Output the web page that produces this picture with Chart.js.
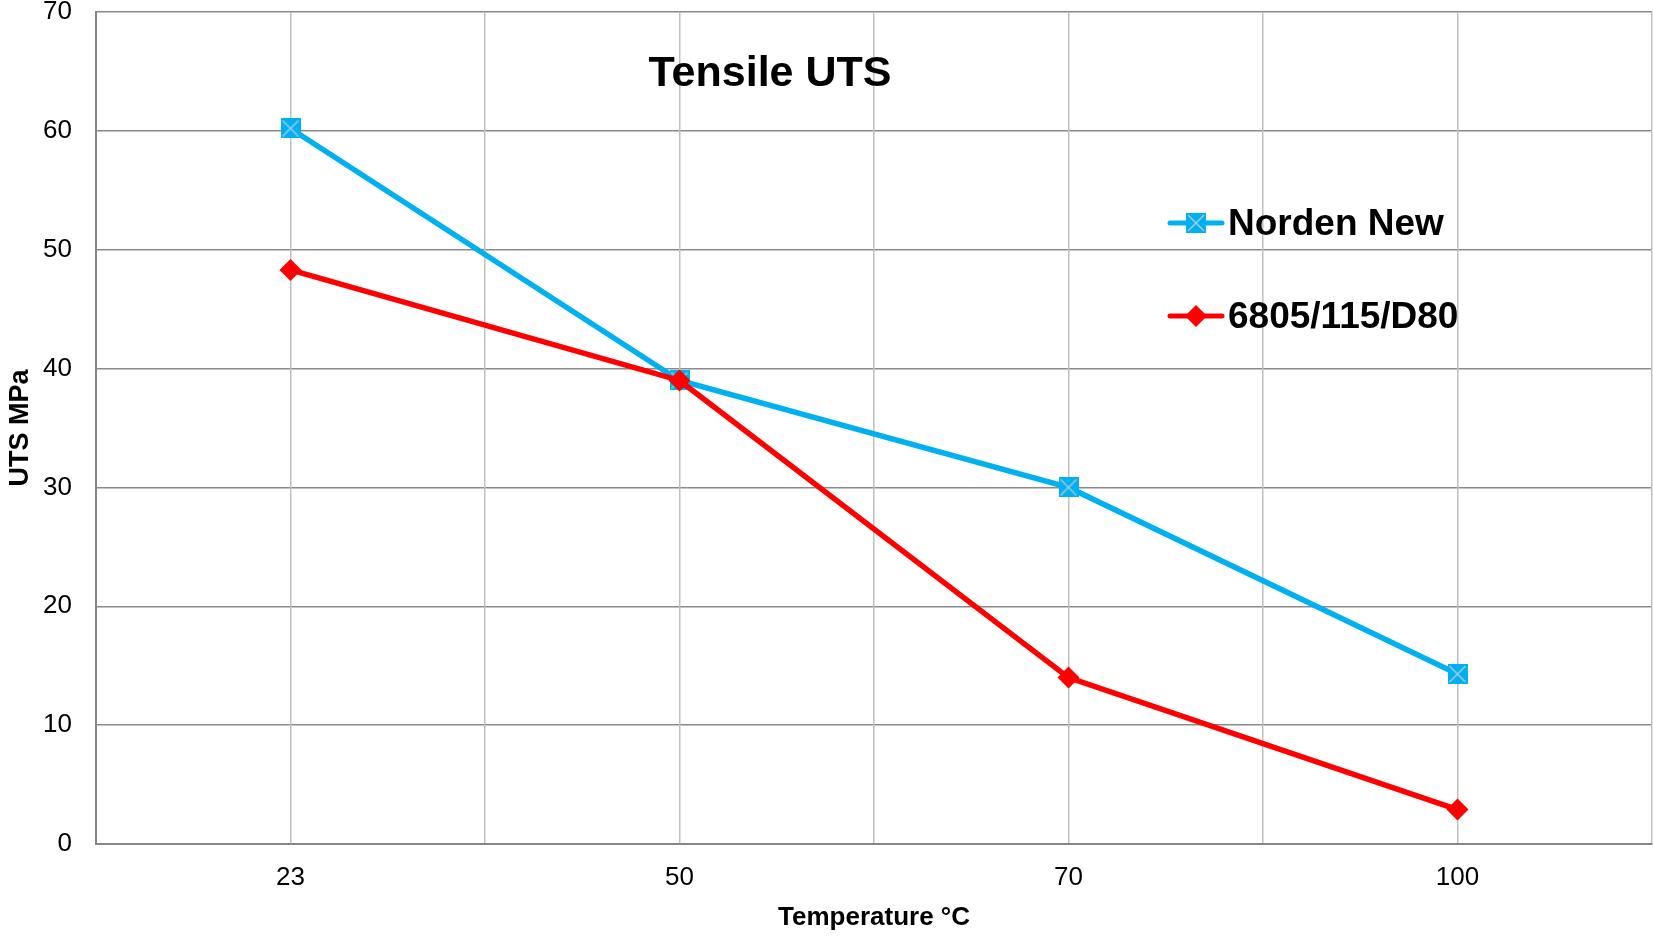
<!DOCTYPE html>
<html>
<head>
<meta charset="utf-8">
<title>Tensile UTS</title>
<script src="https://cdn.jsdelivr.net/npm/chart.js@4/dist/chart.umd.min.js"></script>
<style>
  html, body { margin: 0; padding: 0; background: #fff; overflow: hidden; }
  #wrap { width: 1653px; height: 937px; position: relative; }
  canvas { display: block; }
</style>
</head>
<body>
<div id="wrap"><canvas id="utsChart"></canvas></div>
<script>
// data
const temperatures = ['23', '50', '70', '100'];
const nordenNew = [60.2, 39.0, 30.0, 14.3];
const d80 = [48.3, 39.0, 14.0, 2.9];
const yTicks = [0, 10, 20, 30, 40, 50, 60, 70];

const FONT = '"Liberation Sans", Arial, sans-serif';
const BLUE = '#00b0f0';
const RED = '#ff0000';

// blue square marker with a light cross
function squareMarker(size) {
    const c = document.createElement('canvas');
    c.width = size; c.height = size;
    const g = c.getContext('2d');
    g.fillStyle = BLUE;
    g.fillRect(0, 0, size, size);
    g.strokeStyle = '#a9c9de';
    g.lineWidth = 1.5;
    g.beginPath();
    g.moveTo(2, 2); g.lineTo(size - 2, size - 2);
    g.moveTo(size - 2, 2); g.lineTo(2, size - 2);
    g.stroke();
    return c;
}
const blueMarker = squareMarker(20);

// no automatic padding for the labels: plot box fixed by the layout padding
function noPad(s) {
    s.paddingTop = 0; s.paddingBottom = 0;
    s.paddingLeft = 0; s.paddingRight = 0;
}

// title and legend sit inside the plot area
const insideText = {
    id: 'insideText',
    afterDatasetsDraw(chart) {
        const ctx = chart.ctx;
        ctx.save();
        ctx.fillStyle = '#000';
        ctx.font = 'bold 43px ' + FONT;
        ctx.textAlign = 'center';
        ctx.textBaseline = 'middle';
        ctx.fillText('Tensile UTS', 770, 74);

        const rows = [
            { label: 'Norden New', color: BLUE, y: 223, style: blueMarker, r: 10 },
            { label: '6805/115/D80', color: RED, y: 316, style: 'rectRot', r: 11 }
        ];
        ctx.font = 'bold 37px ' + FONT;
        ctx.textAlign = 'left';
        rows.forEach(row => {
            ctx.strokeStyle = row.color;
            ctx.lineWidth = 5;
            ctx.lineCap = 'round';
            ctx.beginPath();
            ctx.moveTo(1170, row.y);
            ctx.lineTo(1222, row.y);
            ctx.stroke();
            ctx.fillStyle = row.color;
            Chart.helpers.drawPoint(ctx, { pointStyle: row.style, radius: row.r, rotation: 0, borderWidth: 0 }, 1196, row.y);
            ctx.fillStyle = '#000';
            ctx.fillText(row.label, 1228, row.y + 2);
        });
        ctx.restore();
    }
};

new Chart(document.getElementById('utsChart').getContext('2d'), {
    type: 'line',
    data: {
        labels: temperatures,
        datasets: [
            {
                label: 'Norden New',
                data: nordenNew,
                borderColor: BLUE,
                backgroundColor: BLUE,
                borderWidth: 5.5,
                pointStyle: blueMarker,
                pointRadius: 10,
                order: 2
            },
            {
                label: '6805/115/D80',
                data: d80,
                borderColor: RED,
                backgroundColor: RED,
                borderWidth: 5.5,
                pointStyle: 'rectRot',
                pointRadius: 11,
                pointBorderWidth: 0,
                order: 1
            }
        ]
    },
    options: {
        responsive: true,
        maintainAspectRatio: false,
        animation: false,
        layout: { autoPadding: false, padding: { top: 12, right: 1, left: 0, bottom: 0 } },
        plugins: {
            legend: { display: false },
            title: { display: false },
            tooltip: { enabled: false }
        },
        scales: {
            y: {
                min: 0,
                max: 70,
                afterBuildTicks: s => { s.ticks = yTicks.map(v => ({ value: v })); },
                afterFit: s => { s.width = 96; noPad(s); },
                ticks: {
                    color: '#000',
                    padding: 24,
                    font: { family: FONT, size: 26 }
                },
                grid: { color: '#8a8a8a', lineWidth: 1.5, drawTicks: false },
                border: { color: '#868686', width: 2 },
                title: {
                    display: true,
                    text: 'UTS MPa',
                    color: '#000',
                    padding: { top: 4, bottom: 0 },
                    font: { family: FONT, size: 27, weight: 'bold' }
                }
            },
            x: {
                offset: true,
                afterFit: s => { s.height = 93; noPad(s); },
                grid: { offset: false, color: '#c0c0c0', lineWidth: 1.5, drawTicks: false },
                border: { color: '#868686', width: 2 },
                ticks: {
                    color: '#000',
                    padding: 18,
                    font: { family: FONT, size: 26 }
                },
                title: {
                    display: true,
                    text: 'Temperature °C',
                    color: '#000',
                    padding: { top: 10 },
                    font: { family: FONT, size: 26, weight: 'bold' }
                }
            },
            x2: {
                type: 'category',
                position: 'bottom',
                offset: true,
                afterFit: s => { s.height = 0; noPad(s); },
                grid: { offset: true, color: '#c0c0c0', lineWidth: 1.5, drawTicks: false },
                border: { display: false },
                ticks: { display: false }
            }
        }
    },
    plugins: [insideText]
});
</script>
</body>
</html>
